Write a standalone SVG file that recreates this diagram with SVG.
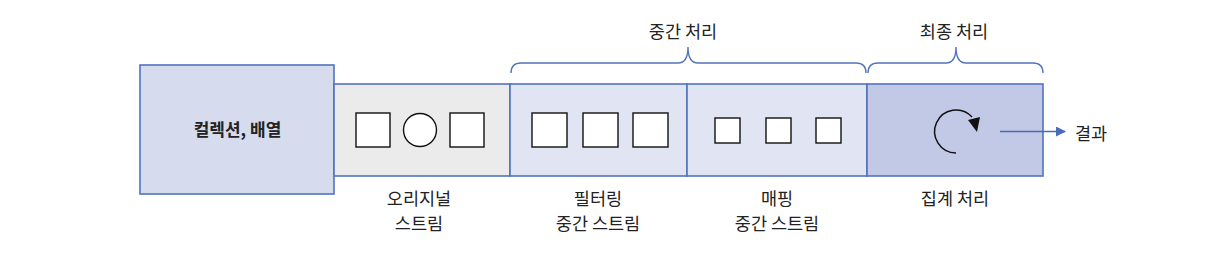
<svg xmlns="http://www.w3.org/2000/svg" width="1224" height="258" viewBox="0 0 1224 258">
<style>
text{font-family:"Noto Sans CJK KR","Noto Sans",sans-serif;font-size:17.5px;fill:#222;text-anchor:middle}
.bx{stroke:#5273bd;stroke-width:1.6}
.sq{fill:#fff;stroke:#111;stroke-width:1.4}
.br{fill:none;stroke:#5273bd;stroke-width:1.4}
</style>
<defs>
<marker id="ah" markerWidth="10" markerHeight="10" refX="9" refY="5" orient="auto" markerUnits="userSpaceOnUse">
<path d="M0,0 L10,5 L0,10 Z" fill="#4a6cb8"/>
</marker>
</defs>
<rect width="1224" height="258" fill="#fff"/>
<g id="collection">
<rect class="bx" x="140" y="65" width="194" height="129" fill="#d6dcee"/>
<text x="237.5" y="136" style="font-weight:bold;font-size:17px">컬렉션, 배열</text>
</g>
<g id="original">
<rect class="bx" x="334" y="84" width="176" height="92" fill="#ebebeb"/>
<rect class="sq" x="356" y="113" width="34" height="34"/>
<circle class="sq" cx="420" cy="130" r="16.5"/>
<rect class="sq" x="450" y="113" width="34" height="34"/>
<text x="419" y="205">오리지널</text>
<text x="419" y="230">스트림</text>
</g>
<g id="filter">
<rect class="bx" x="510" y="84" width="177" height="92" fill="#e0e4f3"/>
<rect class="sq" x="532" y="113" width="35" height="34"/>
<rect class="sq" x="583" y="113" width="35" height="34"/>
<rect class="sq" x="633" y="113" width="35" height="34"/>
<text x="598" y="205">필터링</text>
<text x="598" y="230">중간 스트림</text>
</g>
<g id="mapping">
<rect class="bx" x="687" y="84" width="180" height="92" fill="#e0e4f3"/>
<rect class="sq" x="715" y="118" width="25" height="25"/>
<rect class="sq" x="766" y="118" width="25" height="25"/>
<rect class="sq" x="816" y="118" width="25" height="25"/>
<text x="777" y="205">매핑</text>
<text x="777" y="230">중간 스트림</text>
</g>
<g id="final">
<rect class="bx" x="867" y="84" width="176" height="92" fill="#c2c9e6"/>
<path d="M956,153 A21.5,21.5 0 1 1 972,117" fill="none" stroke="#111" stroke-width="1.5"/>
<path d="M968,120 L980,117 L977,132 Z" fill="#111"/>
<text x="955" y="205">집계 처리</text>
</g>
<g id="result">
<text x="1075" y="140" style="text-anchor:start">결과</text>
</g>
<g id="braces">
<path class="br" d="M511,73 Q511,63 521,63 L678,63 Q688,63 688,47 Q688,63 698,63 L856,63 Q866,63 866,73"/>
<text x="683" y="38">중간 처리</text>
<path class="br" d="M868,73 Q868,63 878,63 L946,63 Q956,63 956,47 Q956,63 966,63 L1033,63 Q1043,63 1043,73"/>
<text x="954" y="38">최종 처리</text>
</g>
<g id="connectors">
<line x1="1000" y1="131.5" x2="1065" y2="131.5" stroke="#4a6cb8" stroke-width="1.5" marker-end="url(#ah)"/>
</g>
</svg>
